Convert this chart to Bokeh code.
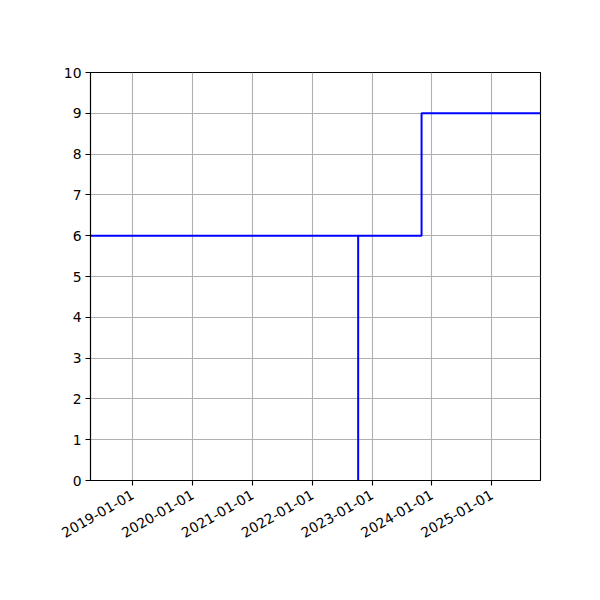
import math
import pandas as pd
from bokeh.plotting import figure
from bokeh.models import Range1d, FixedTicker, DatetimeTickFormatter
from bokeh.embed import file_html
from bokeh.resources import INLINE

# data
step_dates = ["2018-04-18", "2022-10-08", "2022-10-08", "2023-10-30", "2025-10-25"]
step_values = [6, 0, 6, 9, 9]
x_start = "2018-04-18"
x_end = "2025-10-25"
tick_years = [2019, 2020, 2021, 2022, 2023, 2024, 2025]
y_ticks = [0, 1, 2, 3, 4, 5, 6, 7, 8, 9, 10]

def ms(d):
    return pd.Timestamp(d).value / 1e6

xs = [pd.Timestamp(d) for d in step_dates]

p = figure(
    width=600, height=600,
    frame_width=450, frame_height=408,
    x_axis_type="datetime",
    x_range=Range1d(pd.Timestamp(x_start), pd.Timestamp(x_end)),
    y_range=Range1d(0, 10),
    output_backend="svg", toolbar_location=None,
    min_border_left=90, min_border_top=72, min_border_right=60, min_border_bottom=120,
)
p.background_fill_color = "white"
p.border_fill_color = "white"
p.outline_line_color = "black"
p.outline_line_width = 1.1

p.step(xs, step_values, mode="after", line_color="#0000ff", line_width=2)

p.xaxis.ticker = FixedTicker(ticks=[ms(f"{y}-01-01") for y in tick_years])
fmt = "%Y-%m-%d"
p.xaxis.formatter = DatetimeTickFormatter(
    milliseconds=fmt, seconds=fmt, minsec=fmt, minutes=fmt, hourmin=fmt,
    hours=fmt, days=fmt, months=fmt, years=fmt)
p.xaxis.major_label_orientation = math.pi / 6
p.yaxis.ticker = FixedTicker(ticks=y_ticks)

for ax in (p.xaxis, p.yaxis):
    ax.axis_line_color = "black"
    ax.axis_line_width = 1.1
    ax.major_tick_line_color = "black"
    ax.major_tick_line_width = 1.1
    ax.major_tick_out = 5
    ax.major_tick_in = 0
    ax.minor_tick_line_color = None
    ax.major_label_text_font = "DejaVu Sans"
    ax.major_label_text_font_size = "13.9px"
    ax.major_label_text_color = "black"
    ax.major_label_standoff = 4

p.xaxis.major_label_standoff = 8

for g in (p.xgrid, p.ygrid):
    g.grid_line_color = "#b0b0b0"
    g.grid_line_width = 1.1

open("out.html", "w").write(file_html(p, INLINE))
